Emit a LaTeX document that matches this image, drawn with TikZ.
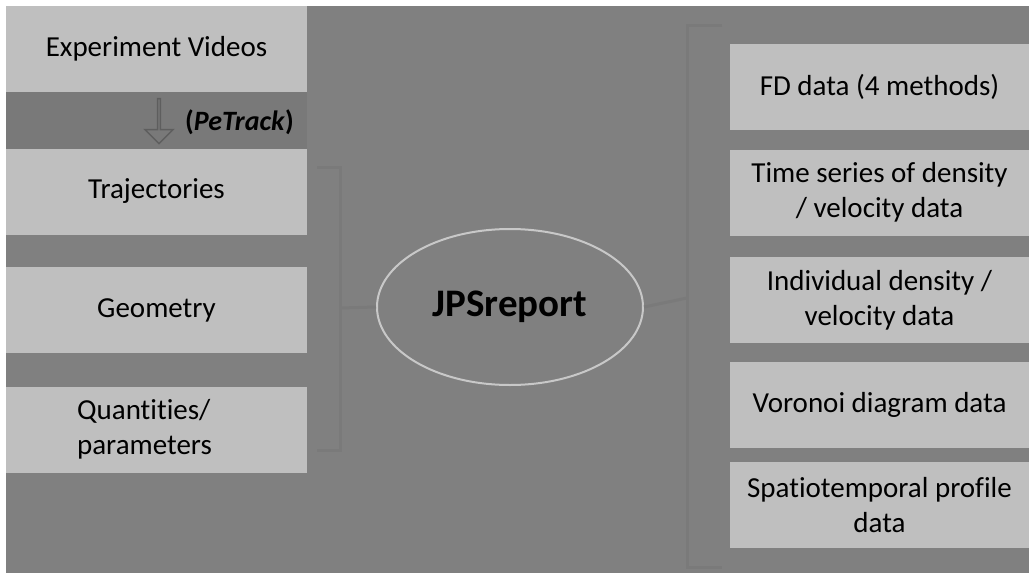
\documentclass[tikz,border=0pt]{standalone}
\usepackage{fontspec}
\setmainfont{Carlito}[Ligatures={NoCommon,NoRequired,NoContextual}]
\usetikzlibrary{shapes.geometric,shapes.arrows}
\definecolor{bg}{HTML}{808080}
\definecolor{band}{HTML}{797979}
\definecolor{boxfill}{HTML}{BFBFBF}
\definecolor{ellcol}{HTML}{C8C8C8}
\definecolor{faint}{HTML}{7A7A7A}
\definecolor{arrcol}{HTML}{5E5E5E}
\tikzset{
  box/.style={rectangle, fill=boxfill, draw=none, inner sep=0pt,
    font=\fontsize{29}{35}\selectfont, text=black, align=center},
  lbox/.style={box, minimum width=301pt, minimum height=86pt},
  rbox/.style={box, minimum width=299pt, minimum height=86pt},
  faintline/.style={draw=faint, line width=3pt},
}
\begin{document}
\begin{tikzpicture}[x=1pt,y=-1pt]
\useasboundingbox (0,0) rectangle (1029,573);
\fill[white] (0,0) rectangle (1029,573);
\fill[bg] (6,6) rectangle (1029,573);
\fill[band] (6,92) rectangle (307,149);

% left boxes
\node[lbox] (vid) at (156.5,49) {Experiment Videos};
\node[lbox] (traj) at (156.5,191.5) {Trajectories};
\node[lbox] (geom) at (156.5,310) {Geometry};
\node[lbox] (quant) at (156.5,430) {\begin{tabular}{@{}l@{\hspace{24pt}}}Quantities/\\parameters\end{tabular}};

% right boxes
\node[rbox] (fd) at (879.5,87) {FD data (4 methods)};
\node[rbox] (ts) at (879.5,192.5) {Time series of density\\/ velocity data};
\node[rbox] (ind) at (879.5,300) {Individual density /\\velocity data};
\node[rbox] (vor) at (879.5,404.5) {Voronoi diagram data};
\node[rbox] (sp) at (879.5,505) {Spatiotemporal profile\\data};

% central ellipse
\node[ellipse, draw=ellcol, line width=2pt, minimum width=266pt, minimum height=156pt,
      inner sep=0pt, font=\fontsize{39}{45}\selectfont\bfseries, text=black]
      (jps) at (510,307) {JPSreport};

% faint brackets
\coordinate (lb1) at (317,167);
\coordinate (lb2) at (340,167);
\coordinate (lb3) at (340,450);
\coordinate (lb4) at (317,450);
\coordinate (lbm) at (340,308);
\draw[faintline] (lb1) -- (lb2) -- (lb3) -- (lb4);
\draw[faintline] (lbm) -- (jps.west);

\coordinate (rb1) at (722,25);
\coordinate (rb2) at (687,25);
\coordinate (rb3) at (687,567);
\coordinate (rb4) at (722,567);
\coordinate (rbm) at (687,298);
\draw[faintline] (rb1) -- (rb2) -- (rb3) -- (rb4);
\draw[faintline] (jps.east) -- (rbm);

% block arrow
\node[single arrow, draw=arrcol, fill=band, line width=1.5pt, rotate=-90,
      minimum height=45pt, minimum width=28pt, single arrow head extend=7pt,
      single arrow tip angle=90, inner sep=0pt] (arr) at (159,120.5) {};
\node[font=\fontsize{28}{32}\selectfont\bfseries, text=black, anchor=west, inner sep=0pt]
      (pet) at (185,122) {(\textit{PeTrack})};
\end{tikzpicture}
\end{document}
